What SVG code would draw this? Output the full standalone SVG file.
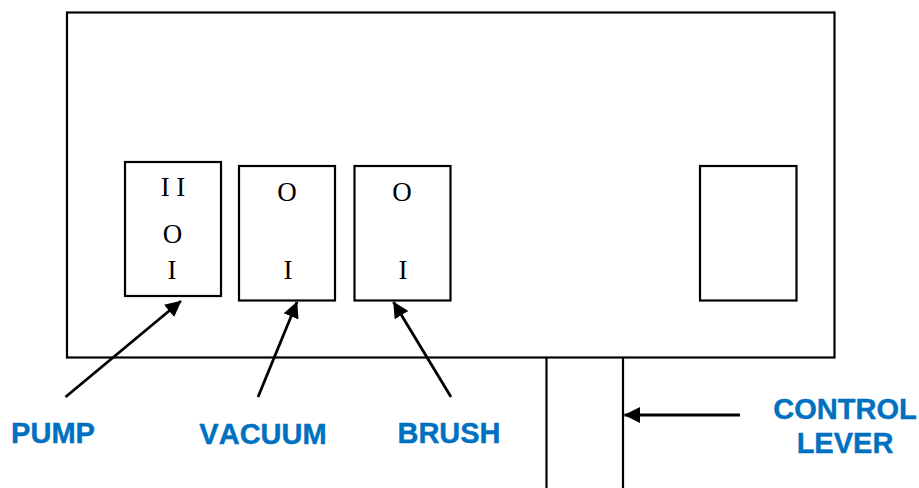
<svg xmlns="http://www.w3.org/2000/svg" width="919" height="488" viewBox="0 0 919 488">
<style>
.b{fill:#fff;stroke:#000;stroke-width:2.200}
.l{fill:none;stroke:#000;stroke-width:2.200}
.c{fill:none;stroke:#000;stroke-width:2.800;marker-end:url(#a)}
.s{font-family:"Liberation Serif",serif;font-size:27px;fill:#000;text-anchor:middle}
.t{font-family:"Liberation Sans",Arial,sans-serif;font-size:29px;font-weight:700;fill:#0070c0;stroke:#0070c0;stroke-width:.4;text-anchor:middle;font-kerning:none}
</style>
<defs><marker id="a" markerUnits="userSpaceOnUse" markerWidth="18" markerHeight="18" refX="15.500" refY="8" orient="auto"><path d="M0 0L16 8L0 16Z" fill="#000"/></marker></defs>
<rect width="919" height="488" fill="#fff"/>
<g id="panel"><rect class="b" x="67" y="12.500" width="767.500" height="345"/></g>
<g id="lever"><path class="l" d="M546.500 358V488M623 358V488"/></g>
<g id="pump-switch"><rect class="b" x="125" y="162" width="96" height="134"/><text class="s" x="173" y="196">I I</text><text class="s" x="172.500" y="243">O</text><text class="s" x="172" y="279">I</text></g>
<g id="vacuum-switch"><rect class="b" x="239" y="166" width="96" height="134.500"/><text class="s" x="287" y="201">O</text><text class="s" x="288" y="279">I</text></g>
<g id="brush-switch"><rect class="b" x="354.500" y="166" width="96" height="134.500"/><text class="s" x="402" y="201">O</text><text class="s" x="403" y="279">I</text></g>
<g id="blank-switch"><rect class="b" x="700" y="166" width="96.500" height="134.500"/></g>
<g id="connectors">
<path class="c" d="M65.500 397L181 301"/>
<path class="c" d="M258 397L297 302"/>
<path class="c" d="M451 397L393.500 302"/>
<path class="c" d="M740 415L624.500 415"/>
</g>
<g id="labels">
<text class="t" x="53" y="443">PUMP</text>
<text class="t" x="263" y="444">VACUUM</text>
<text class="t" x="449" y="443">BRUSH</text>
<text class="t" x="845" y="419">CONTROL</text>
<text class="t" x="845" y="453">LEVER</text>
</g>
</svg>
